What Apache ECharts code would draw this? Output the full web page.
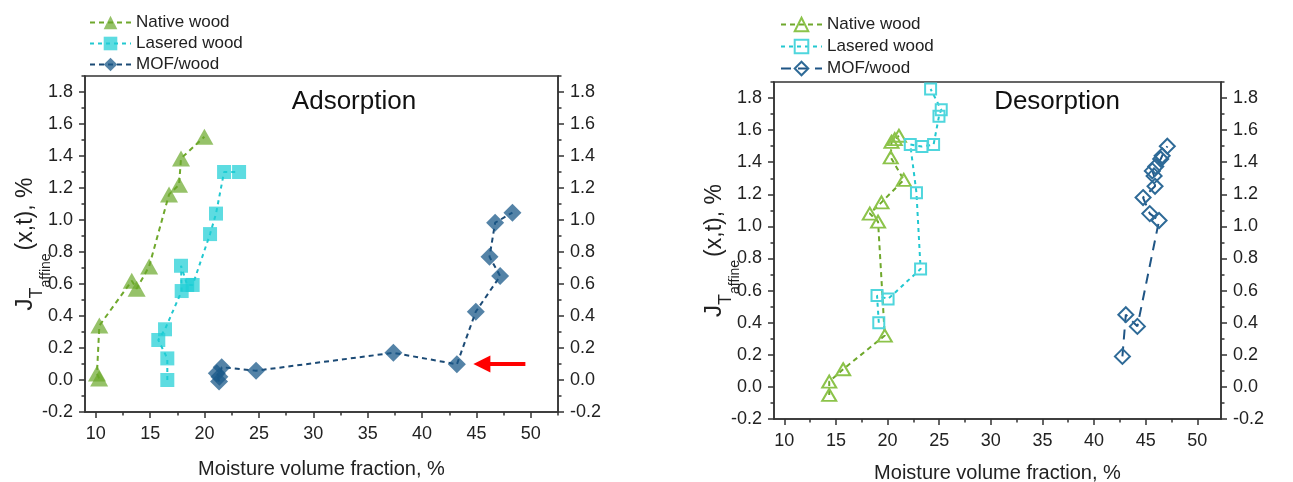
<!DOCTYPE html>
<html>
<head>
<meta charset="utf-8">
<script src="https://cdn.jsdelivr.net/npm/echarts@6/dist/echarts.min.js"></script>
<style>
  html, body { margin: 0; padding: 0; background: #fff; }
  #chart { width: 1293px; height: 482px; }
</style>
</head>
<body>
<div id="chart"></div>
<script>
// Tick positions shared by both panels
const xTicks = [10, 15, 20, 25, 30, 35, 40, 45, 50];
const xMinorTicks = [12.5, 17.5, 22.5, 27.5, 32.5, 37.5, 42.5, 47.5, 52.5];
const yTicks = [-0.2, 0, 0.2, 0.4, 0.6, 0.8, 1.0, 1.2, 1.4, 1.6, 1.8];
const yMinorTicks = [-0.1, 0.1, 0.3, 0.5, 0.7, 0.9, 1.1, 1.3, 1.5, 1.7, 1.9];

// Adsorption: moisture volume fraction (%) and J (%)
const adsNativeX = [10.3, 10.1, 10.32, 13.3, 13.75, 14.9, 16.73, 17.65, 17.83, 19.98];
const adsNativeY = [0.01, 0.04, 0.34, 0.62, 0.57, 0.71, 1.16, 1.22, 1.385, 1.52];
const adsLaserX = [16.57, 16.57, 15.74, 16.36, 17.89, 17.83, 18.4, 18.9, 20.5, 21.05, 21.79, 23.17];
const adsLaserY = [0.0, 0.135, 0.25, 0.317, 0.556, 0.714, 0.594, 0.594, 0.912, 1.04, 1.30, 1.30];
const adsMofX = [21.33, 21.12, 21.36, 21.57, 24.73, 37.36, 43.2, 44.94, 47.18, 46.2, 46.72, 48.31];
const adsMofY = [-0.01, 0.042, 0.02, 0.08, 0.058, 0.17, 0.098, 0.427, 0.65, 0.77, 0.983, 1.046];

// Desorption: moisture volume fraction (%) and J (%)
const desNativeX = [14.35, 14.35, 15.7, 19.73, 19.08, 18.28, 19.41, 21.57, 20.31, 20.38, 20.7, 21.1];
const desNativeY = [-0.05, 0.033, 0.11, 0.32, 1.03, 1.08, 1.15, 1.29, 1.43, 1.527, 1.544, 1.565];
const desLaserX = [19.15, 18.98, 20.05, 23.2, 22.8, 22.2, 23.33, 24.46, 24.98, 25.2, 24.17];
const desLaserY = [0.40, 0.569, 0.548, 0.735, 1.21, 1.51, 1.498, 1.51, 1.686, 1.727, 1.856];
const desMofX = [42.75, 43.08, 44.2, 46.3, 45.4, 44.75, 45.91, 45.82, 45.65, 45.98, 46.46, 46.6, 47.1];
const desMofY = [0.19, 0.45, 0.377, 1.037, 1.08, 1.18, 1.25, 1.315, 1.346, 1.373, 1.42, 1.44, 1.50];

// Arrow marking the MOF/wood point near 43 %
const arrowFrom = [49.5, 0.1];
const arrowTo = [45.5, 0.1];

const seriesNames = ['Native wood', 'Lasered wood', 'MOF/wood'];
const panelTitles = ['Adsorption', 'Desorption'];
const xName = 'Moisture volume fraction, %';

const FONT = "'Liberation Sans', Arial, sans-serif";
const AX = '#333';
const TXT = '#222';
const GREEN = '#6aa82a', CYAN = '#1fcfd6', BLUE = '#1b5a8a';

const zip = (xs, ys) => xs.map((x, i) => [x, ys[i]]);

function xAxesFor(grid, max, gap) {
  const base = { type: 'value', gridIndex: grid, position: 'bottom', min: 9, max: max, splitLine: { show: false } };
  return [
    Object.assign({}, base, {
      axisLine: { show: true, onZero: false, lineStyle: { color: AX, width: 1.5 } },
      axisTick: { show: true, customValues: xTicks, length: 6, lineStyle: { color: AX, width: 1.5 } },
      axisLabel: { customValues: xTicks, fontSize: 18, color: TXT, margin: 13, fontFamily: FONT },
      name: xName, nameLocation: 'middle', nameGap: gap, nameMoveOverlap: false,
      nameTextStyle: { fontSize: 20, color: TXT, fontFamily: FONT }
    }),
    Object.assign({}, base, {
      axisLine: { show: false, onZero: false },
      axisTick: { show: true, customValues: xMinorTicks, length: 3.5, lineStyle: { color: AX, width: 1.5 } },
      axisLabel: { show: false }
    })
  ];
}

function yAxesFor(grid) {
  const base = { type: 'value', gridIndex: grid, min: -0.2, max: 1.9, splitLine: { show: false } };
  const axes = [];
  ['left', 'right'].forEach(pos => {
    const main = Object.assign({}, base, {
      position: pos,
      axisLine: { show: true, onZero: false, lineStyle: { color: AX, width: 1.5 } },
      axisTick: { show: true, customValues: yTicks, length: 6, lineStyle: { color: AX, width: 1.5 } },
      axisLabel: { customValues: yTicks, fontSize: 18, color: TXT, margin: 12, fontFamily: FONT,
                   formatter: v => v.toFixed(1) }
    });
    if (pos === 'left') {
      Object.assign(main, {
        name: '{j|J}{t|T}{a|affine}{r|(x,t), %}',
        nameLocation: 'middle', nameGap: 32, nameMoveOverlap: false,
        nameTextStyle: {
          color: TXT, fontFamily: FONT,
          rich: {
            j: { fontSize: 24, verticalAlign: 'top', color: TXT, fontFamily: FONT },
            t: { fontSize: 18, verticalAlign: 'top', padding: [15, 0, 0, 0], color: TXT, fontFamily: FONT },
            a: { fontSize: 14, verticalAlign: 'top', padding: [26, 0, 0, 0], color: TXT, fontFamily: FONT },
            r: { fontSize: 23, verticalAlign: 'top', padding: [1, 0, 0, 3], color: TXT, fontFamily: FONT }
          }
        }
      });
    }
    axes.push(main);
    axes.push(Object.assign({}, base, {
      position: pos,
      axisLine: { show: false, onZero: false },
      axisTick: { show: true, customValues: yMinorTicks, length: 3.5, lineStyle: { color: AX, width: 1.5 } },
      axisLabel: { show: false }
    }));
  });
  return axes;
}

function filled(name, xi, yi, data, symbol, size, color, lineColor, dash, opacity) {
  return {
    type: 'line', name, xAxisIndex: xi, yAxisIndex: yi, data,
    symbol, symbolSize: size,
    itemStyle: { color, opacity },
    lineStyle: { color: lineColor, width: 2, type: dash },
    emphasis: { disabled: true }
  };
}

function open(name, xi, yi, data, symbol, size, color, lineColor, dash) {
  return {
    type: 'line', name, xAxisIndex: xi, yAxisIndex: yi, data,
    symbol, symbolSize: size,
    itemStyle: { color: 'rgba(255,255,255,0)', borderColor: color, borderWidth: 2 },
    lineStyle: { color: lineColor, width: 2, type: dash },
    emphasis: { disabled: true }
  };
}

const desName = n => n + ' (desorption)';

const series = [
  filled(seriesNames[0], 0, 0, zip(adsNativeX, adsNativeY), 'triangle', [18, 16], GREEN, '#6fa82c', [5, 4], 0.7),
  filled(seriesNames[1], 0, 0, zip(adsLaserX, adsLaserY), 'rect', 14, CYAN, '#22c8d0', [4, 4], 0.72),
  Object.assign(
    filled(seriesNames[2], 0, 0, zip(adsMofX, adsMofY), 'diamond', [18, 18], BLUE, '#1b4a75', [5, 4], 0.75),
    {
      markLine: {
        silent: true, symbol: ['none', 'triangle'], symbolSize: 17,
        label: { show: false },
        lineStyle: { color: '#ff0000', width: 4, type: 'solid' },
        emphasis: { disabled: true },
        data: [[{ coord: arrowFrom }, { coord: arrowTo }]]
      }
    }
  ),
  open(desName(seriesNames[0]), 2, 4, zip(desNativeX, desNativeY), 'triangle', [14, 12], '#8cc34a', '#6fa82c', [5, 4]),
  open(desName(seriesNames[1]), 2, 4, zip(desLaserX, desLaserY), 'rect', 11, '#4fd6dd', '#22c8d0', [4, 4]),
  open(desName(seriesNames[2]), 2, 4, zip(desMofX, desMofY), 'diamond', [15, 15], '#2e6a97', '#1f5585', [10, 7])
];

const legendBase = {
  orient: 'vertical', itemWidth: 41, itemHeight: 17, selectedMode: false,
  textStyle: { fontSize: 17, color: TXT, fontFamily: FONT },
  formatter: n => n.replace(' (desorption)', '')
};

const option = {
  animation: false,
  backgroundColor: '#fff',
  textStyle: { fontFamily: FONT },
  grid: [
    { left: 85, right: 1293 - 558, top: 76, bottom: 482 - 412, show: true, borderColor: AX, borderWidth: 1.5, outerBoundsMode: 'none' },
    { left: 774, right: 1293 - 1221, top: 82, bottom: 482 - 419, show: true, borderColor: AX, borderWidth: 1.5, outerBoundsMode: 'none' }
  ],
  legend: [
    Object.assign({}, legendBase, { left: 84, top: 9, itemGap: 4, data: seriesNames }),
    Object.assign({}, legendBase, { left: 775, top: 11, itemGap: 5, data: seriesNames.map(desName) })
  ],
  xAxis: [].concat(xAxesFor(0, 52.5, 47), xAxesFor(1, 52.3, 44)),
  yAxis: [].concat(yAxesFor(0), yAxesFor(1)),
  graphic: [
    { type: 'text', x: 354, y: 102, style: { text: panelTitles[0], fontSize: 26, fontFamily: FONT, fill: '#111', align: 'center', verticalAlign: 'middle' } },
    { type: 'text', x: 1057, y: 102, style: { text: panelTitles[1], fontSize: 26, fontFamily: FONT, fill: '#111', align: 'center', verticalAlign: 'middle' } }
  ],
  series
};

const chart = echarts.init(document.getElementById('chart'), null, { renderer: 'canvas' });
chart.setOption(option);
</script>
</body>
</html>
